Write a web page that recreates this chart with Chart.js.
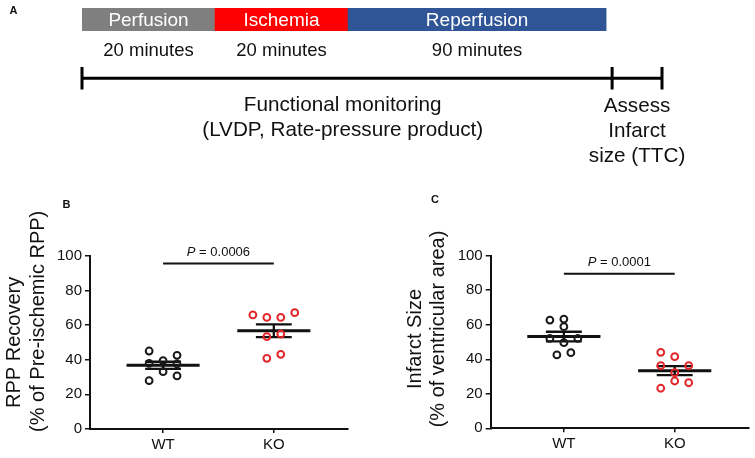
<!DOCTYPE html>
<html><head><meta charset="utf-8">
<script src="https://cdn.jsdelivr.net/npm/chart.js@4.4.0/dist/chart.umd.min.js"></script>
<style>
html,body{margin:0;padding:0;background:#fff;width:755px;height:458px;overflow:hidden}
canvas{position:absolute}
#cA{left:0;top:0}
#cB{left:0;top:180px}
#cC{left:400px;top:180px}
</style></head><body>
<canvas id="cA" width="755" height="180"></canvas>
<canvas id="cB" width="360" height="278"></canvas>
<canvas id="cC" width="355" height="278"></canvas>
<script>
// ---------- Panel A: protocol timeline (schematic units) ----------
const phases = ['Perfusion', 'Ischemia', 'Reperfusion'];
const phaseDurations = ['20 minutes', '20 minutes', '90 minutes'];
const phaseSpans = [1, 1, 1.94];           // schematic widths as drawn
const monitoringEnd = 3.985;
const assessEnd = 4.36;
const monitoringLabelAt = 1.96;
const monitoringLabel = ['Functional monitoring', '(LVDP, Rate-pressure product)'];
const assessLabel = ['Assess', 'Infarct', 'size (TTC)'];

// ---------- Panels B & C ----------
const groups = ['WT', 'KO'];
const yTicks = [0, 20, 40, 60, 80, 100];

const rppWT = [45.0, 37.9, 27.9, 39.4, 33.1, 42.5, 37.5, 30.6];
const rppWTSlots = [-1, -1, -1, 0, 0, 1, 1, 1];
const rppKO = [65.8, 64.4, 53.3, 40.8, 64.4, 54.8, 43.1, 67.1];
const rppKOSlots = [-1.5, -0.5, -0.5, -0.5, 0.5, 0.5, 0.5, 1.5];
const rppSigY = 95.5;
const rppP = '0.0006';
const rppTitle = ['RPP Recovery', '(% of Pre-ischemic RPP)'];

const infWT = [62.7, 52.1, 63.3, 58.9, 49.6, 52.1, 42.5, 43.8];
const infWTSlots = [-1, -1, 0, 0, 0, 1, -0.5, 0.5];
const infKO = [44.0, 36.3, 23.2, 41.5, 32.2, 27.4, 36.3, 26.4];
const infKOSlots = [-1, -1, -1, 0, 0, 0, 1, 1];
const infSigY = 89.6;
const infP = '0.0001';
const infTitle = ['Infarct Size', '(% of ventricular area)'];

// ---------- styles ----------
const FONT = '"Liberation Sans", Arial, Helvetica, sans-serif';
const INK = '#111';
const phaseColors = ['#7f7f7f', '#ff0000', '#2f5597'];
const groupColors = ['#1a1a1a', '#e3262b'];
const SLOT = 0.126, MEAN_HALF = 0.33, CAP_HALF = 0.162;

// ---------- Panel A chart ----------
let acc = 0;
const spanRanges = phaseSpans.map(w => { const r = [acc, acc + w]; acc += w; return r; });

const aPlugin = {
  id: 'aText',
  afterDraw(chart) {
    const ctx = chart.ctx, xs = chart.scales.x, meta = chart.getDatasetMeta(0);
    ctx.save();
    ctx.textAlign = 'center'; ctx.textBaseline = 'middle';
    meta.data.forEach((el, i) => {
      const cx = (el.x + el.base) / 2;
      ctx.fillStyle = '#ffffff'; ctx.font = '19px ' + FONT;
      ctx.fillText(phases[i], cx, el.y + 1);
      ctx.fillStyle = INK; ctx.font = '18.5px ' + FONT;
      ctx.fillText(phaseDurations[i], cx, 51);
    });
    // timeline
    ctx.strokeStyle = '#000'; ctx.lineWidth = 3; ctx.lineCap = 'butt';
    ctx.beginPath();
    ctx.moveTo(xs.getPixelForValue(0), 78.3);
    ctx.lineTo(xs.getPixelForValue(assessEnd), 78.3);
    [0, monitoringEnd, assessEnd].forEach(v => {
      const px = xs.getPixelForValue(v);
      ctx.moveTo(px, 67); ctx.lineTo(px, 89.5);
    });
    ctx.stroke();
    ctx.fillStyle = INK; ctx.font = '20.7px ' + FONT;
    const mx = xs.getPixelForValue(monitoringLabelAt);
    monitoringLabel.forEach((t, i) => ctx.fillText(t, mx, 105.5 + i * 25));
    const ax = xs.getPixelForValue((monitoringEnd + assessEnd) / 2);
    assessLabel.forEach((t, i) => ctx.fillText(t, ax, 106 + i * 25));
    ctx.font = 'bold 11px ' + FONT;
    ctx.fillText('A', 13.5, 10.5);
    ctx.restore();
  }
};

new Chart(document.getElementById('cA'), {
  type: 'bar',
  data: {
    labels: ['timeline'],
    datasets: [{
      data: spanRanges.map(r => ({ y: 'timeline', x: r })),
      backgroundColor: phaseColors,
      borderWidth: 0,
      barThickness: 23
    }]
  },
  options: {
    indexAxis: 'y', responsive: false, animation: false, events: [],
    layout: { padding: { left: 82, right: 93, top: 8, bottom: 149 } },
    scales: {
      x: { type: 'linear', min: 0, max: assessEnd, display: false },
      y: { type: 'category', display: false, offset: true }
    },
    plugins: { legend: { display: false }, tooltip: { enabled: false } }
  },
  plugins: [aPlugin]
});

// ---------- Scatter panels ----------
function stats(a) {
  const n = a.length, m = a.reduce((s, v) => s + v, 0) / n;
  const sd = Math.sqrt(a.reduce((s, v) => s + (v - m) * (v - m), 0) / (n - 1));
  return { m, sem: sd / Math.sqrt(n) };
}
function pts(vals, slots, gx) { return vals.map((v, i) => ({ x: gx + slots[i] * SLOT, y: v })); }
function meanData(vals, gx) { const { m } = stats(vals); return [{ x: gx - MEAN_HALF, y: m }, { x: gx + MEAN_HALF, y: m }]; }
function errData(vals, gx) {
  const { m, sem } = stats(vals);
  return [
    { x: gx - CAP_HALF, y: m + sem }, { x: gx + CAP_HALF, y: m + sem }, { x: gx + CAP_HALF, y: null },
    { x: gx - CAP_HALF, y: m - sem }, { x: gx + CAP_HALF, y: m - sem }, { x: gx + CAP_HALF, y: null },
    { x: gx, y: m - sem }, { x: gx, y: m + sem }
  ];
}

function makePanel(id, wt, wtS, ko, koS, sigY, pVal, title, letter, cfg) {
  const lineDs = (data, w) => ({ type: 'scatter', data, showLine: true, spanGaps: false, borderColor: INK, borderWidth: w, pointRadius: 0, fill: false });
  const ptDs = (data, c) => ({ type: 'scatter', data, pointStyle: 'circle', pointRadius: 3.4, borderWidth: 2, borderColor: c, backgroundColor: 'rgba(0,0,0,0)' });
  const panelPlugin = {
    id: 'panelText' + id,
    afterDraw(chart) {
      const ctx = chart.ctx, xs = chart.scales.x, ys = chart.scales.y, ca = chart.chartArea;
      ctx.save();
      // P value
      const cx = xs.getPixelForValue(1.5), ty = ys.getPixelForValue(sigY) - 11.5;
      ctx.fillStyle = INK; ctx.textBaseline = 'middle'; ctx.textAlign = 'left';
      ctx.font = 'italic 13px ' + FONT; const w1 = ctx.measureText('P').width;
      ctx.font = '13px ' + FONT; const rest = ' = ' + pVal; const w2 = ctx.measureText(rest).width;
      const sx = cx - (w1 + w2) / 2;
      ctx.font = 'italic 13px ' + FONT; ctx.fillText('P', sx, ty);
      ctx.font = '13px ' + FONT; ctx.fillText(rest, sx + w1, ty);
      // y title
      ctx.font = '20px ' + FONT; ctx.textAlign = 'center';
      const yc = (ca.top + ca.bottom) / 2;
      title.forEach((t, i) => {
        ctx.save();
        ctx.translate(ca.left + cfg.titleX[i], yc + cfg.titleDy[i]);
        ctx.rotate(-Math.PI / 2);
        ctx.fillText(t, 0, 0);
        ctx.restore();
      });
      // letter
      ctx.font = 'bold 11px ' + FONT;
      ctx.fillText(letter, cfg.letter[0], cfg.letter[1]);
      ctx.restore();
    }
  };
  new Chart(document.getElementById(id), {
    type: 'scatter',
    data: {
      datasets: [
        ptDs(pts(wt, wtS, 1), groupColors[0]),
        ptDs(pts(ko, koS, 2), groupColors[1]),
        lineDs(meanData(wt, 1), 3),
        lineDs(meanData(ko, 2), 3),
        lineDs(errData(wt, 1), 2.3),
        lineDs(errData(ko, 2), 2.3),
        lineDs([{ x: 1, y: sigY }, { x: 2, y: sigY }], 2)
      ]
    },
    options: {
      responsive: false, animation: false, events: [],
      layout: { padding: cfg.padding },
      plugins: { legend: { display: false }, tooltip: { enabled: false } },
      scales: {
        x: {
          type: 'linear', min: 0.34, max: 2.67,
          afterBuildTicks: s => { s.ticks = groups.map((g, i) => ({ value: i + 1 })); },
          afterFit: s => { s.height = cfg.xHeight; },
          ticks: { callback: v => groups[Math.round(v) - 1], font: { family: FONT, size: 15 }, color: INK, padding: 3, autoSkip: false, maxRotation: 0 },
          grid: { display: true, drawOnChartArea: false, drawTicks: true, tickLength: 4, color: INK, lineWidth: 1.5 },
          border: { display: true, color: INK, width: 2 }
        },
        y: {
          type: 'linear', min: 0, max: 100,
          afterBuildTicks: s => { s.ticks = yTicks.map(v => ({ value: v })); },
          afterFit: s => { s.width = cfg.yWidth; },
          ticks: { font: { family: FONT, size: 15 }, color: INK, padding: 3 },
          grid: { display: true, drawOnChartArea: false, drawTicks: true, tickLength: 5, color: INK, lineWidth: 1.5 },
          border: { display: true, color: INK, width: 2 }
        }
      }
    },
    plugins: [panelPlugin]
  });
}

makePanel('cB', rppWT, rppWTSlots, rppKO, rppKOSlots, rppSigY, rppP, rppTitle, 'B', {
  padding: { left: 0, right: 12, top: 75.7, bottom: 0 }, yWidth: 90, xHeight: 29,
  titleX: [-76, -51.5], titleDy: [0, -21], letter: [66.5, 25]
});
makePanel('cC', infWT, infWTSlots, infKO, infKOSlots, infSigY, infP, infTitle, 'C', {
  padding: { left: 0, right: 3, top: 75.7, bottom: 0 }, yWidth: 90.7, xHeight: 29.7,
  titleX: [-75.7, -52.7], titleDy: [-3, -13], letter: [35, 19.5]
});
</script>
</body></html>
